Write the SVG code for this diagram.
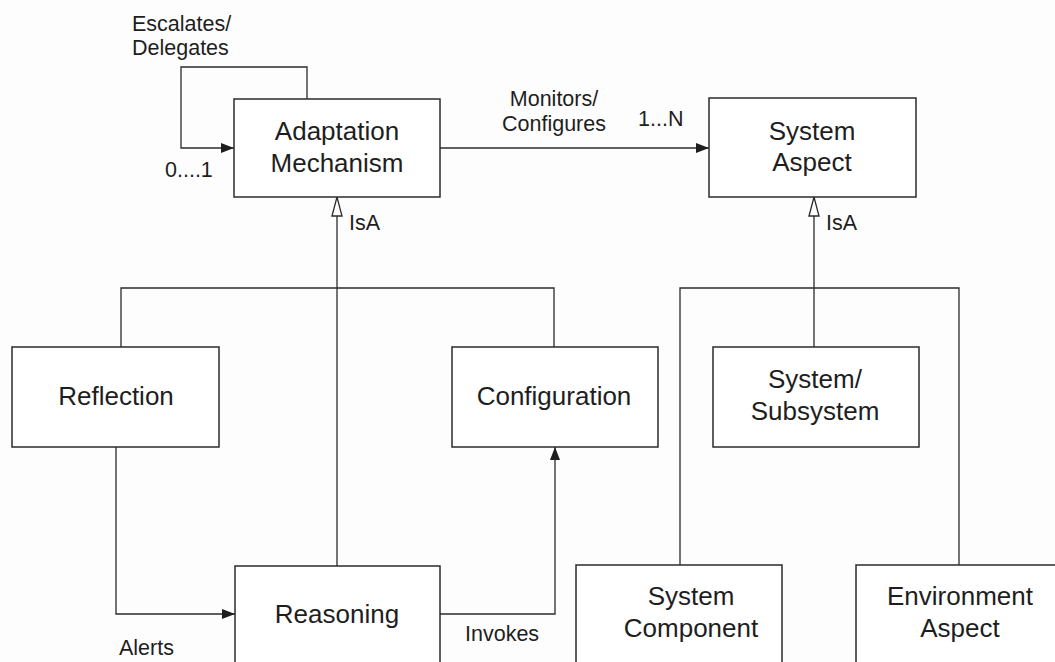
<svg xmlns="http://www.w3.org/2000/svg" width="1055" height="662" viewBox="0 0 1055 662">
  <style>
    .box { fill: #ffffff; stroke: #2b2b2b; stroke-width: 1.5; }
    .wire { fill: none; stroke: #2b2b2b; stroke-width: 1.3; }
    .node { font-family: "Liberation Sans", Arial, sans-serif; font-size: 26px; fill: #1e1e1e; text-anchor: middle; }
    .lbl { font-family: "Liberation Sans", Arial, sans-serif; font-size: 21.5px; fill: #1e1e1e; }
  </style>
  <defs>
    <marker id="arrow" viewBox="0 0 13 10" refX="13" refY="5" markerWidth="13" markerHeight="10" markerUnits="userSpaceOnUse" orient="auto">
      <path d="M0,0 L13,5 L0,10 Z" fill="#1e1e1e"/>
    </marker>
    <marker id="isa" viewBox="-1 -1 21 12" refX="19" refY="5" markerWidth="21" markerHeight="12" markerUnits="userSpaceOnUse" orient="auto">
      <path d="M0,0 L19,5 L0,10 Z" fill="#ffffff" stroke="#2b2b2b" stroke-width="1.3"/>
    </marker>
  </defs>

  <rect width="1055" height="662" fill="#fdfdfd"/>

  <!-- connectors -->
  <g id="connectors">
    <path class="wire" d="M307,99 V67 H181 V148 H234" marker-end="url(#arrow)"/>
    <path class="wire" d="M440,148 H709" marker-end="url(#arrow)"/>
    <path class="wire" d="M337,566 V197" marker-end="url(#isa)"/>
    <path class="wire" d="M121,347 V288 H554 V347"/>
    <path class="wire" d="M116,447 V614 H235" marker-end="url(#arrow)"/>
    <path class="wire" d="M440,614 H555 V447" marker-end="url(#arrow)"/>
    <path class="wire" d="M814,347 V197" marker-end="url(#isa)"/>
    <path class="wire" d="M680,565 V288 H959 V565"/>

    <text class="lbl" x="132" y="31">Escalates/</text>
    <text class="lbl" x="132" y="55">Delegates</text>
    <text class="lbl" x="165" y="177">0....1</text>
    <text class="lbl" x="554" y="106" text-anchor="middle">Monitors/</text>
    <text class="lbl" x="554" y="131" text-anchor="middle">Configures</text>
    <text class="lbl" x="638" y="126">1...N</text>
    <text class="lbl" x="349" y="230">IsA</text>
    <text class="lbl" x="826" y="230">IsA</text>
    <text class="lbl" x="119" y="655">Alerts</text>
    <text class="lbl" x="465" y="641">Invokes</text>
  </g>

  <g id="adaptation-mechanism">
    <rect class="box" x="234" y="99" width="206" height="98"/>
    <text class="node" x="337" y="140">Adaptation</text>
    <text class="node" x="337" y="172">Mechanism</text>
  </g>

  <g id="system-aspect">
    <rect class="box" x="709" y="98" width="207" height="99"/>
    <text class="node" x="812" y="140">System</text>
    <text class="node" x="812" y="171">Aspect</text>
  </g>

  <g id="reflection">
    <rect class="box" x="12" y="347" width="207" height="100"/>
    <text class="node" x="116" y="405">Reflection</text>
  </g>

  <g id="configuration">
    <rect class="box" x="452" y="347" width="206" height="100"/>
    <text class="node" x="554" y="405">Configuration</text>
  </g>

  <g id="system-subsystem">
    <rect class="box" x="713" y="347" width="206" height="100"/>
    <text class="node" x="815" y="388">System/</text>
    <text class="node" x="815" y="420">Subsystem</text>
  </g>

  <g id="reasoning">
    <rect class="box" x="235" y="566" width="205" height="120"/>
    <text class="node" x="337" y="623">Reasoning</text>
  </g>

  <g id="system-component">
    <rect class="box" x="576" y="565" width="206" height="120"/>
    <text class="node" x="691" y="605">System</text>
    <text class="node" x="691" y="637">Component</text>
  </g>

  <g id="environment-aspect">
    <rect class="box" x="856" y="565" width="210" height="120"/>
    <text class="node" x="960" y="605">Environment</text>
    <text class="node" x="960" y="637">Aspect</text>
  </g>
</svg>
